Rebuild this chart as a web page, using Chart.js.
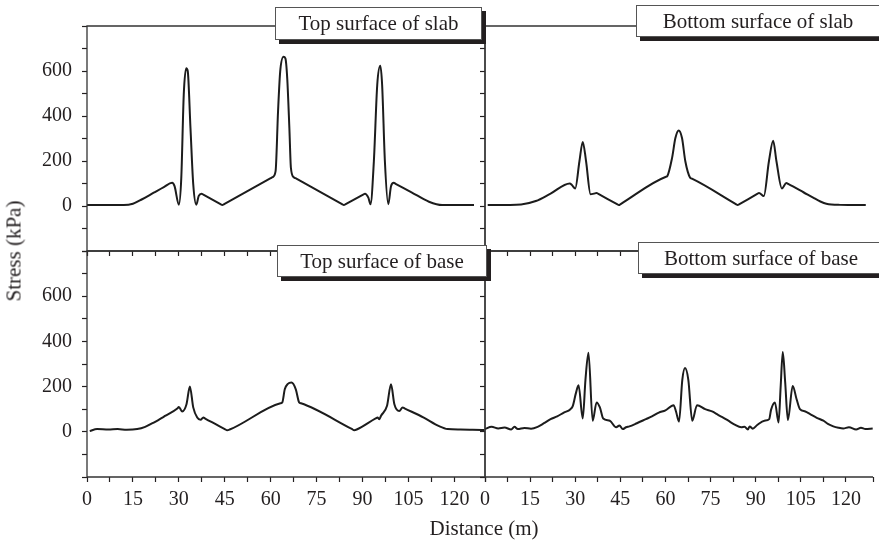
<!DOCTYPE html>
<html>
<head>
<meta charset="utf-8">
<script src="https://cdn.jsdelivr.net/npm/chart.js@4.4.1/dist/chart.umd.min.js"></script>
<style>
  body { margin: 0; background: #fff; }
  #wrap { position: relative; width: 879px; height: 546px; overflow: hidden; font-family: "Liberation Serif", "Times New Roman", serif; color: #231f20; }
  #wrap canvas { position: absolute; left: 0; top: 0; }
  .tag { position: absolute; background: #fff; border: 1px solid #555; box-shadow: 4px 4px 0 #231f20; box-sizing: border-box; font-size: 21px; text-align: center; white-space: nowrap; z-index: 5; }
  .title { position: absolute; font-size: 21px; white-space: nowrap; transform: translate(-50%, -50%); }
</style>
</head>
<body>
<div id="wrap">
  <canvas id="slab-top" width="879" height="546"></canvas>
  <canvas id="slab-bottom" width="879" height="546"></canvas>
  <canvas id="base-top" width="879" height="546"></canvas>
  <canvas id="base-bottom" width="879" height="546"></canvas>

  <div class="tag" id="tag-0" style="left:275px; top:7px; width:207px; height:33px; line-height:31px;"></div>
  <div class="tag" id="tag-1" style="left:636px; top:5px; width:244px; height:32px; line-height:30px;"></div>
  <div class="tag" id="tag-2" style="left:277px; top:245px; width:210px; height:32px; line-height:30px;"></div>
  <div class="tag" id="tag-3" style="left:638px; top:242px; width:246px; height:32px; line-height:30px;"></div>

  <div class="title" style="left:14px; top:251px; transform: translate(-50%, -50%) rotate(-90deg);">Stress (kPa)</div>
  <div class="title" style="left:484px; top:528px;">Distance (m)</div>
</div>

<script>
// stress along the pavement (kPa vs m)
const slabTopX = [0, 12, 15, 18, 21.8, 25.1, 27.8, 28.6, 30.0, 30.8, 31.6, 32.4, 32.9, 33.8, 34.7, 35.7, 36.5, 37.4, 38.0, 43.6,
  44.2, 44.8, 60.0, 60.6, 61.6, 62.4, 63.1, 64.2, 64.8, 65.4, 66.1, 66.6, 67.5, 68.1, 83.3, 83.9, 84.5, 90.2, 90.8, 91.9,
  92.6, 93.7, 94.8, 95.8, 96.4, 97.3, 98.4, 99.3, 100.2, 100.8, 106, 111.7, 116, 126.4];
const slabTopY = [4, 4, 10, 30, 59, 84, 103, 88, 6, 126, 494, 612, 600, 346, 97, 6, 45, 55, 50.5, 8.5,
  4, 8.5, 123.5, 128, 155, 420, 597, 663, 656, 568, 347, 170, 128, 123.5, 8.5, 4, 8.5, 50.5, 55, 37,
  8, 199, 538, 623, 538, 199, 8, 88, 103, 98.6, 61, 19, 4, 4];

const slabBottomX = [0.9, 12, 16.9, 21.8, 28.2, 28.9, 30.0, 31.4, 32.5, 33.6, 35.1, 36.2, 37.1, 37.7, 43.9, 44.5, 45.1, 60.0, 60.6, 62.2,
  63.3, 64.4, 65.5, 66.6, 68.2, 68.8, 83.4, 84.0, 84.6, 90.5, 91.1, 92.7, 94.4, 95.8, 96.9, 98.7, 100.2, 100.8, 106, 109.1,
  111.5, 113.5, 118, 126.6];
const slabBottomY = [4, 7, 22, 55, 100, 93, 78, 199, 285, 199, 52, 55, 58, 53.6, 8.4, 4, 8.8, 129, 133, 214,
  302, 336, 302, 199, 126, 121.4, 8.6, 4, 8.6, 53.4, 58, 44, 199, 290, 199, 78, 102, 98, 60, 37,
  20, 10, 5, 4];

const baseTopX = [0.9, 3.3, 7, 10, 13, 16.4, 19, 21.8, 25.5, 29.5, 30.0, 31.1, 32.5, 33.6, 34.7, 36.0, 37.1, 38.0, 38.6, 45.0,
  45.8, 46.6, 63.2, 63.8, 64.6, 65.6, 66.8, 68.2, 69.3, 69.9, 86.5, 87.3, 88.1, 94.3, 94.9, 95.5, 96.0, 98.0, 99.3, 100.4,
  102.0, 103.1, 103.7, 110, 115, 117.8, 122, 126, 129.8];
const baseTopY = [3, 12, 10, 12, 9, 12, 22, 41, 70, 103, 110, 90, 122, 200, 108, 63, 53, 63, 58.7, 12,
  7, 10, 126, 130, 188, 212, 218, 188, 130, 126, 12.5, 7, 10, 59, 63, 56, 70, 115, 210, 122,
  92, 108, 104, 63, 25, 12, 10, 9, 8];

const baseBottomX = [0, 2.2, 4.4, 6.5, 8.7, 9.8, 10.9, 13.1, 15.3, 17.5, 19.6, 21.8, 24, 26.2, 28.4, 29.2, 30.2, 31.1, 32.5, 33.4,
  34.4, 35.8, 37.1, 38.2, 39.3, 41.5, 43.6, 44.7, 45.8, 46.9, 48.0, 50.5, 53.5, 55.5, 57.8, 60, 62.7, 63.5, 64.5, 65.6,
  66.5, 67.6, 68.9, 70.5, 73.2, 75.5, 77.6, 79.3, 80.9, 83, 85.2, 86.3, 87.4, 88.0, 89, 90.5, 92.9, 94.5, 95.1, 96.4,
  97.6, 98.3, 99.0, 99.8, 100.7, 102.3, 103.6, 104.7, 106.5, 108.1, 110.3, 112.5, 114, 115.8, 117.5, 119.1, 121, 123.4, 125, 126.5,
  128.9];
const baseBottomY = [12, 22, 15, 19, 10, 22, 12, 17, 14, 22, 38, 56, 68, 85, 100, 115, 170, 206, 59, 230,
  350, 49, 130, 108, 59, 49, 20, 28, 12, 20, 24, 38, 56, 68, 85, 95, 118, 90, 45, 230,
  282, 230, 49, 118, 100, 90, 74, 62, 49, 32, 20, 22, 10, 24, 14, 30, 49, 56, 97, 130,
  41, 200, 353, 220, 52, 203, 144, 100, 90, 78, 62, 49, 35, 24, 18, 15, 20, 10, 18, 12,
  15];

const panelTitles = ['Top surface of slab', 'Bottom surface of slab', 'Top surface of base', 'Bottom surface of base'];
const xTickLabels = [0, 15, 30, 45, 60, 75, 90, 105, 120];
const yTickLabels = [0, 200, 400, 600];

const INK = '#231f20';
const FONT = { family: '"Liberation Serif", "Times New Roman", serif', size: 20 };

panelTitles.forEach((t, i) => { document.getElementById('tag-' + i).textContent = t; });

// box around the plot area, right side left open for the cut-off panels
const framePlugin = {
    id: 'frame',
    afterDraw(chart, args, opts) {
        const { ctx, chartArea: a } = chart;
        ctx.save();
        ctx.strokeStyle = '#333';
        ctx.lineWidth = 1.3;
        ctx.beginPath();
        ctx.moveTo(a.right, a.top);
        ctx.lineTo(a.left, a.top);
        ctx.lineTo(a.left, a.bottom);
        ctx.lineTo(a.right, a.bottom);
        if (opts.closed) ctx.lineTo(a.right, a.top);
        ctx.stroke();
        ctx.restore();
    }
};

function isOneOf(list, v) {
    return list.some(t => Math.abs(t - v) < 1e-6);
}

function makePanel(id, xs, ys, box, cfg) {
    const points = xs.map((x, i) => ({ x: x, y: ys[i] }));
    const yWidth = cfg.yLabels ? box.left : 12;
    const xHeight = 40;

    new Chart(document.getElementById(id), {
        type: 'line',
        data: {
            datasets: [{
                data: points,
                borderColor: '#1c1c1c',
                borderWidth: 2,
                pointRadius: 0,
                fill: false,
                cubicInterpolationMode: 'monotone'
            }]
        },
        options: {
            responsive: false,
            animation: false,
            devicePixelRatio: 1,
            layout: {
                padding: {
                    left: box.left - yWidth,
                    top: box.top,
                    right: 879 - box.right,
                    bottom: 546 - box.bottom - xHeight
                }
            },
            plugins: {
                legend: { display: false },
                tooltip: { enabled: false },
                frame: { closed: cfg.closed }
            },
            scales: {
                x: {
                    type: 'linear',
                    min: 0,
                    max: cfg.xMax,
                    afterFit: s => { s.height = xHeight; },
                    border: { display: false },
                    grid: { drawOnChartArea: false, tickLength: 5, tickColor: INK, tickWidth: 1.2 },
                    ticks: {
                        stepSize: 7.5,
                        autoSkip: false,
                        maxRotation: 0,
                        minRotation: 0,
                        padding: 6,
                        color: INK,
                        font: FONT,
                        callback: v => (cfg.xLabels && isOneOf(xTickLabels, v)) ? String(v) : ''
                    }
                },
                y: {
                    min: -200,
                    max: 800,
                    afterFit: s => { s.width = yWidth; },
                    border: { display: false },
                    grid: { drawOnChartArea: false, tickLength: 5, tickColor: INK, tickWidth: 1.2 },
                    ticks: {
                        stepSize: 100,
                        autoSkip: false,
                        padding: 10,
                        color: INK,
                        font: FONT,
                        callback: v => (cfg.yLabels && isOneOf(yTickLabels, v)) ? String(v) : ''
                    }
                }
            }
        },
        plugins: [framePlugin]
    });
}

makePanel('slab-top', slabTopX, slabTopY, { left: 87, top: 26, right: 485, bottom: 251 },
    { xMax: 130, xLabels: false, yLabels: true, closed: true });
makePanel('slab-bottom', slabBottomX, slabBottomY, { left: 485, top: 26, right: 879, bottom: 251 },
    { xMax: 129, xLabels: false, yLabels: false, closed: false });
makePanel('base-top', baseTopX, baseTopY, { left: 87, top: 251, right: 485, bottom: 477 },
    { xMax: 130, xLabels: true, yLabels: true, closed: true });
makePanel('base-bottom', baseBottomX, baseBottomY, { left: 485, top: 251, right: 879, bottom: 477 },
    { xMax: 129, xLabels: true, yLabels: false, closed: false });
</script>
</body>
</html>
